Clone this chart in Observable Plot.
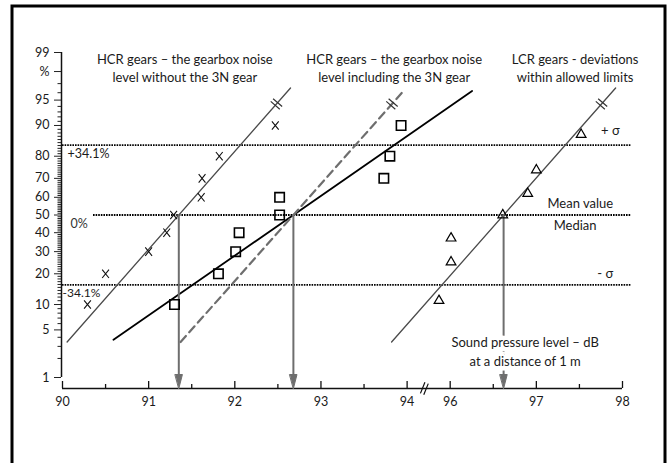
<!DOCTYPE html>
<html><head><meta charset="utf-8">
<script src="https://cdn.jsdelivr.net/npm/d3@7"></script>
<script src="https://cdn.jsdelivr.net/npm/@observablehq/plot@0.6"></script>
<style>html,body{margin:0;padding:0;background:#fff;overflow:hidden;} #chart svg{display:block;overflow:hidden;}</style>
</head><body><div id="chart"></div>
<script>
// ---------- data ----------
const pctMajor = [1, 5, 10, 20, 30, 40, 50, 60, 70, 80, 90, 95, 98, 99];
const pctMajorLabels = ["1", "5", "10", "20", "30", "40", "50", "60", "70", "80", "90", "95", "%", "99"];
const xMajorTicks = [90, 91, 92, 93, 94, 96, 97, 98];
const xMinorTicks = [90.5, 91.5, 92.5, 93.5, 96.5, 97.5];

// HCR gears without the 3N gear (X markers)
const hcrWithoutX = [90.29, 90.5, 91.0, 91.21, 91.29, 91.61, 91.62, 91.82, 92.47];
const hcrWithoutP = [10, 20, 30, 40, 50, 60, 70, 80, 90];
// HCR gears including the 3N gear (squares)
const hcrWithX = [91.3, 91.81, 92.01, 92.05, 92.52, 92.52, 93.73, 93.8, 93.93];
const hcrWithP = [10, 20, 30, 40, 50, 60, 70, 80, 90];
// LCR gears (triangles)
const lcrX = [95.87, 96.01, 96.01, 96.61, 96.9, 97.0, 97.52];
const lcrP = [11, 25, 37, 50, 62, 74, 87.5];

// fitted normal lines: mean, sigma, lowest %, highest %
const fitMeans = [91.35, 92.68, 92.68, 96.62];
const fitSigmas = [0.713, 1.169, 0.72, 0.715];
const fitLow = [3.45, 3.7, 3.45, 3.45];
const fitHigh = [96.55, 96.2, 96.2, 96.55];

const titles = [
  "HCR gears \u2013 the gearbox noise\nlevel without the 3N gear",
  "HCR gears \u2013 the gearbox noise\nlevel including the 3N gear",
  "LCR gears - deviations\nwithin allowed limits"
];

// ---------- helpers ----------
function probit(p) {
  const a=[-3.969683028665376e+01,2.209460984245205e+02,-2.759285104469687e+02,1.383577518672690e+02,-3.066479806614716e+01,2.506628277459239e+00];
  const b=[-5.447609879822406e+01,1.615858368580409e+02,-1.556989798598866e+02,6.680131188771972e+01,-1.328068155288572e+01];
  const c=[-7.784894002430293e-03,-3.223964580411365e-01,-2.400758277161838e+00,-2.549732539343734e+00,4.374664141464968e+00,2.938163982698783e+00];
  const d=[7.784695709041462e-03,3.224671290700398e-01,2.445134137142996e+00,3.754408661907416e+00];
  const pl = 0.02425, ph = 1 - pl;
  let q, r;
  if (p < pl) { q = Math.sqrt(-2*Math.log(p)); return (((((c[0]*q+c[1])*q+c[2])*q+c[3])*q+c[4])*q+c[5])/((((d[0]*q+d[1])*q+d[2])*q+d[3])*q+1); }
  if (p <= ph) { q = p - 0.5; r = q*q; return (((((a[0]*r+a[1])*r+a[2])*r+a[3])*r+a[4])*r+a[5])*q/(((((b[0]*r+b[1])*r+b[2])*r+b[3])*r+b[4])*r+1); }
  q = Math.sqrt(-2*Math.log(1-p)); return -(((((c[0]*q+c[1])*q+c[2])*q+c[3])*q+c[4])*q+c[5])/((((d[0]*q+d[1])*q+d[2])*q+d[3])*q+1);
}
const zp = pct => probit(pct / 100);
// broken x axis: values from 96 upward are shifted left by 1.5 units
const pos = v => v >= 95 ? v - 1.5 : v;

const zLo = zp(1), zHi = zp(99);
const yTop = 52, yBot = 377, axisPx = 388;
const pxPerZ = (yBot - yTop) / (zHi - zLo);
const zAxis = zLo - (axisPx - yBot) / pxPerZ;

const labelMap = new Map(pctMajor.map((p, i) => [zp(p), pctMajorLabels[i]]));
const pctMinor = d3.range(2, 98).filter(p => !pctMajor.includes(p));

const pts = (xs, ps) => xs.map((x, i) => ({x: pos(x), z: zp(ps[i])}));
const fitLine = i => [
  {x: pos(fitMeans[i] + fitSigmas[i] * zp(fitLow[i])), z: zp(fitLow[i])},
  {x: pos(fitMeans[i] + fitSigmas[i] * zp(fitHigh[i])), z: zp(fitHigh[i])}
];
const hatchPoint = i => ({x: pos(fitMeans[i] + fitSigmas[i] * zp(94.4)), z: zp(94.4)});

const hatch = {draw(ctx) { const h = 6, s = 1.8; ctx.moveTo(-s, -h); ctx.lineTo(-s, h); ctx.moveTo(s, -h); ctx.lineTo(s, h); }};
const letterX = {draw(ctx) { const w = 3.4, h = 4.2; ctx.moveTo(-w, -h); ctx.lineTo(w, h); ctx.moveTo(-w, h); ctx.lineTo(w, -h); }};
const arrowHead = {draw(ctx, l) { ctx.moveTo(0, -l); ctx.lineTo(-3.6, 0); ctx.lineTo(3.6, 0); ctx.closePath(); }};

const gray = "#6e6e6e", lineGray = "#4a4a4a";
const arrowXs = [fitMeans[0], fitMeans[1], fitMeans[3]].map(pos);
const xEnd = pos(98.1);

const chart = Plot.plot({
  width: 669, height: 463,
  marginLeft: 62, marginRight: 47, marginTop: 52, marginBottom: 75,
  style: {fontFamily: "Lato, 'Open Sans', sans-serif", fontSize: "12px", color: "#1a1a1a", background: "white"},
  x: {domain: [90, 96.5], label: null},
  y: {domain: [zLo, zHi], range: [yBot, yTop], label: null},
  marks: [
    // outer frame (open at the bottom of the picture)
    Plot.frame({stroke: "#000", strokeWidth: 3, insetLeft: -50.5, insetTop: -46.5, insetRight: -42.5, insetBottom: -300}),
    // dotted reference lines
    Plot.ruleY([1], {y: d => d, x1: 90, x2: xEnd, stroke: "#000", strokeWidth: 1.9, strokeDasharray: "1.6,1"}),
    Plot.ruleY([0], {y: d => d, x1: 90.36, x2: xEnd, stroke: "#000", strokeWidth: 1.9, strokeDasharray: "1.6,1"}),
    Plot.ruleY([-1], {y: d => d, x1: 90, x2: xEnd, stroke: "#000", strokeWidth: 1.9, strokeDasharray: "1.6,1"}),
    // y axis
    Plot.ruleX([90], {x: d => d, y1: zLo, y2: zHi, stroke: "#111", strokeWidth: 1.5, dx: -1}),
    Plot.axisY(pctMinor.map(zp), {tickSize: 3.5, tickFormat: () => "", stroke: "#222", dx: -1}),
    Plot.axisY(pctMajor.map(zp), {tickSize: 7, tickPadding: 5, tickFormat: d => labelMap.get(d), fontSize: 12.5, stroke: "#222", dx: -1}),
    // x axis
    Plot.ruleY([zAxis], {y: d => d, x1: 90, x2: 96.5, stroke: "#111", strokeWidth: 1.5}),
    Plot.ruleX(xMajorTicks.map(pos), {x: d => d, y1: zAxis, y2: zAxis + 7 / pxPerZ, stroke: "#111", strokeWidth: 1.3}),
    Plot.ruleX(xMinorTicks.map(pos), {x: d => d, y1: zAxis, y2: zAxis + 4 / pxPerZ, stroke: "#111", strokeWidth: 1.3}),
    Plot.axisX(xMajorTicks.map(pos), {tickSize: 0, tickPadding: 9, fontSize: 12.5, tickFormat: d => d <= 94 ? String(d) : String(d + 1.5)}),
    Plot.dot([pos(94.2)], {x: d => d, y: zAxis, symbol: hatch, rotate: 22, fill: "none", stroke: "#111", strokeWidth: 1.2}),
    // fitted lines
    Plot.line(fitLine(0), {x: "x", y: "z", stroke: lineGray, strokeWidth: 1.3}),
    Plot.line(fitLine(1), {x: "x", y: "z", stroke: "#000", strokeWidth: 1.8}),
    Plot.line(fitLine(2), {x: "x", y: "z", stroke: gray, strokeWidth: 2.2, strokeDasharray: "8,5"}),
    Plot.line(fitLine(3), {x: "x", y: "z", stroke: lineGray, strokeWidth: 1.3}),
    Plot.dot([hatchPoint(0), hatchPoint(2), hatchPoint(3)], {x: "x", y: "z", symbol: hatch, rotate: -49, fill: "none", stroke: "#333", strokeWidth: 1.2}),
    // mean arrows
    Plot.ruleX(arrowXs, {x: d => d, y1: 0, y2: zAxis + 13 / pxPerZ, stroke: gray, strokeWidth: 2}),
    Plot.vector(arrowXs, {x: d => d, y: zAxis, length: 14, rotate: 180, anchor: "end", shape: arrowHead, fill: gray, stroke: gray, strokeWidth: 1}),
    // markers
    Plot.dot(pts(hcrWithoutX, hcrWithoutP), {x: "x", y: "z", symbol: letterX, fill: "none", stroke: "#111", strokeWidth: 1.1}),
    Plot.dot(pts(hcrWithX, hcrWithP), {x: "x", y: "z", symbol: "square", r: 5.3, fill: "none", stroke: "#000", strokeWidth: 1.6}),
    Plot.dot(pts(lcrX, lcrP), {x: "x", y: "z", symbol: "triangle", r: 3.6, fill: "none", stroke: "#000", strokeWidth: 1.2}),
    // annotations
    Plot.text(["+34.1%"], {x: 90, y: 1, dx: 5, dy: 9, textAnchor: "start", fontSize: 12.5}),
    Plot.text(["0%"], {x: 90, y: 0, dx: 8, dy: 9, textAnchor: "start", fontSize: 12.5, fill: "#333"}),
    Plot.text(["-34.1%"], {x: 90, y: -1, dx: 0, dy: 8, textAnchor: "start", fontSize: 12}),
    Plot.text(["+ \u03c3"], {x: pos(97.86), y: 1, dy: -14, fontSize: 13}),
    Plot.text(["- \u03c3"], {x: pos(97.8), y: -1, dy: -11, fontSize: 13}),
    Plot.text(["Mean value"], {x: pos(97.51), y: 0, dy: -11, fontSize: 13}),
    Plot.text(["Median"], {x: pos(97.45), y: 0, dy: 10.5, fontSize: 13}),
    Plot.text(["Sound pressure level \u2013 dB\nat a distance of 1 m"], {x: pos(96.87), y: zLo, dy: -27, fontSize: 13, lineHeight: 1.42, stroke: "white", strokeWidth: 9, paintOrder: "stroke", fill: "#1a1a1a"}),
    Plot.text([titles[0]], {x: 91.42, y: zHi, dy: 15, fontSize: 13, lineHeight: 1.38}),
    Plot.text([titles[1]], {x: 93.85, y: zHi, dy: 15, fontSize: 13, lineHeight: 1.38}),
    Plot.text([titles[2]], {x: pos(97.45), y: zHi, dy: 15, fontSize: 13, lineHeight: 1.38})
  ]
});
document.getElementById("chart").append(chart);
</script>
</body></html>
